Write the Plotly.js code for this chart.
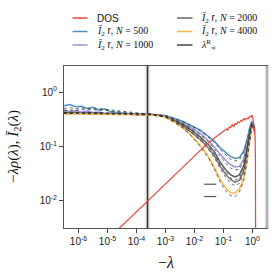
<!DOCTYPE html>
<html><head><meta charset="utf-8">
<script src="https://cdn.plot.ly/plotly-3.0.1.min.js"></script>
<style>html,body{margin:0;padding:0;background:#fff}</style>
</head><body><div id="chart" style="width:277px;height:280px"></div>
<script>
// ---- data ----
const lamDOS = [2.5e-5,1e-4,3.16e-4,1e-3,3.16e-3,0.01,0.0251,0.0501,0.0794,0.1,0.126,0.141,0.158,0.178,0.2,0.224,0.251,0.282,0.316,0.355,0.398,0.447,0.501,0.562,0.631,0.708,0.794,0.871,0.955,1.047,1.148,1.23,1.259,1.274,1.288];
const dos    = [0.00309,0.00631,0.01148,0.0209,0.0372,0.0676,0.107,0.145,0.174,0.186,0.209,0.200,0.229,0.224,0.251,0.229,0.263,0.257,0.282,0.275,0.302,0.295,0.324,0.309,0.331,0.324,0.355,0.347,0.380,0.316,0.219,0.151,0.063,0.01,0.001];

const lamI = [3.16e-7,5.0e-7,7.9e-7,1.26e-6,2.0e-6,3.16e-6,5.0e-6,7.9e-6,1.26e-5,2.5e-5,5.0e-5,1.0e-4,3.16e-4,1.0e-3,2.0e-3,4.0e-3,7.9e-3,1.58e-2,3.16e-2,5.0e-2,7.9e-2,0.126,0.178,0.251,0.355,0.501,0.631,0.794,0.933,1.07,1.2];
const i2N500  = [0.562,0.589,0.537,0.550,0.501,0.525,0.468,0.490,0.437,0.417,0.398,0.389,0.389,0.372,0.331,0.288,0.240,0.200,0.151,0.123,0.093,0.074,0.065,0.060,0.063,0.083,0.126,0.219,0.282,0.263,0.209];
const i2N1000 = [0.47,0.44,0.46,0.43,0.45,0.42,0.43,0.41,0.41,0.40,0.40,0.39,0.39,0.363,0.316,0.269,0.219,0.174,0.126,0.095,0.071,0.054,0.046,0.042,0.043,0.060,0.100,0.191,0.269,0.251,0.200];
const i2N2000 = [0.427,0.417,0.427,0.407,0.417,0.407,0.417,0.398,0.407,0.398,0.398,0.389,0.389,0.355,0.302,0.251,0.200,0.151,0.105,0.078,0.050,0.036,0.030,0.0275,0.030,0.045,0.079,0.166,0.257,0.240,0.191];
const i2N3000 = [0.41,0.40,0.41,0.40,0.40,0.41,0.40,0.40,0.40,0.39,0.39,0.39,0.39,0.355,0.288,0.234,0.182,0.135,0.091,0.066,0.042,0.0295,0.0245,0.0219,0.024,0.0355,0.066,0.148,0.245,0.229,0.182];
const i2N4000 = [0.40,0.39,0.40,0.39,0.39,0.39,0.39,0.39,0.38,0.38,0.38,0.38,0.38,0.347,0.282,0.219,0.158,0.105,0.063,0.040,0.024,0.0166,0.0141,0.0138,0.0166,0.026,0.050,0.120,0.219,0.229,0.174];

const fitN500  = [0.50,0.52,0.49,0.51,0.50,0.49,0.50,0.48,0.47,0.45,0.43,0.41,0.39,0.37,0.33,0.285,0.236,0.193,0.144,0.116,0.086,0.067,0.058,0.054,0.057,0.077,0.122,0.214,0.275,0.26,0.21];
const fitN1000 = [0.45,0.47,0.46,0.48,0.47,0.48,0.46,0.47,0.45,0.44,0.42,0.40,0.39,0.36,0.31,0.263,0.213,0.166,0.118,0.087,0.064,0.048,0.040,0.037,0.038,0.054,0.093,0.18,0.26,0.25,0.20];
const fitN2000 = [0.42,0.43,0.42,0.42,0.43,0.42,0.42,0.41,0.41,0.41,0.40,0.40,0.39,0.35,0.30,0.248,0.195,0.144,0.098,0.071,0.045,0.032,0.026,0.024,0.026,0.040,0.074,0.16,0.25,0.235,0.19];
const fitN3000 = [0.41,0.41,0.42,0.41,0.41,0.41,0.40,0.41,0.40,0.40,0.40,0.39,0.39,0.35,0.285,0.23,0.177,0.129,0.085,0.060,0.038,0.026,0.021,0.019,0.021,0.032,0.062,0.143,0.24,0.225,0.18];
const fitN4000 = [0.41,0.40,0.41,0.40,0.40,0.40,0.40,0.39,0.39,0.39,0.39,0.38,0.38,0.345,0.28,0.216,0.154,0.100,0.059,0.037,0.0215,0.0148,0.0124,0.0120,0.0146,0.024,0.047,0.115,0.215,0.225,0.17];

const lamInf = [2.4e-4];
const lamInfBand = [1.9e-4, 3.0e-4];
const dashLam = [0.0216, 0.0562];
const dashLevels = [0.0202, 0.0120];

const xTickVals = [1e-6,1e-5,1e-4,1e-3,1e-2,1e-1,1];
const xTickText = ['10<sup>-6</sup>','10<sup>-5</sup>','10<sup>-4</sup>','10<sup>-3</sup>','10<sup>-2</sup>','10<sup>-1</sup>','10<sup>0</sup>'];
const yTickVals = [0.01,0.1,1];
const yTickText = ['10<sup>-2</sup>','10<sup>-1</sup>','10<sup>0</sup>'];

// ---- styles ----
const C = {dos:'#e8473a', n500:'#4a92c6', n1000:'#9d93db', n2000:'#5a5a5a', n3000:'#7a7a7a', n4000:'#f5b94a', inf:'#333333'};
const YLO = 1e-3, YHI = 10;

const traces = [];
traces.push({x:[lamInfBand[0],lamInfBand[1],lamInfBand[1],lamInfBand[0]], y:[YLO,YLO,YHI,YHI], fill:'toself', mode:'none', fillcolor:'rgba(0,0,0,0.08)', hoverinfo:'skip', showlegend:false});
traces.push({x:[lamInf[0],lamInf[0]], y:[YLO,YHI], mode:'lines', line:{color:C.inf,width:1.6}, showlegend:false});

const solids = [[i2N500,C.n500],[i2N1000,C.n1000],[i2N2000,C.n2000],[i2N3000,C.n3000],[i2N4000,C.n4000]];
solids.forEach(s=>traces.push({x:lamI, y:s[0], mode:'lines', line:{color:s[1], width:1.5}, showlegend:false}));
[fitN500,fitN1000,fitN2000,fitN3000,fitN4000].forEach(f=>traces.push({x:lamI, y:f, mode:'lines', line:{color:'rgba(40,40,40,0.8)', width:0.9, dash:'dot'}, showlegend:false}));
dashLevels.forEach(v=>traces.push({x:dashLam, y:[v,v], mode:'lines', line:{color:'#555', width:1.2}, showlegend:false}));
traces.push({x:lamDOS, y:dos, mode:'lines', line:{color:C.dos, width:1.2}, showlegend:false});

// ---- manual legend ----
const W = 203, H = 162, L = 64, T = 66;
const px = v => (v - L)/W, py = v => (T + H - v)/H;
const serif = 'Liberation Serif';
const lab = n => '<span style="font-family:'+serif+'"><i>Ī</i><sub>2</sub></span> r, <span style="font-family:'+serif+'"><i>N</i> = '+n+'</span>';
const legItems = [
  {c:C.dos, t:'DOS', col:0, row:0},
  {c:C.n500, t:lab(500), col:0, row:1},
  {c:C.n1000, t:lab(1000), col:0, row:2},
  {c:'#666', t:lab(2000), col:1, row:0},
  {c:C.n4000, t:lab(4000), col:1, row:1},
  {c:'#444', t:'<span style="font-family:'+serif+'"><i>λ</i><sup>R</sup><sub>∞</sub></span>', col:1, row:2}
];
const rowsY = [18, 31.5, 45];
const colX = [[72.5,87.5,95],[177,192.5,199]];
const shapes = [], annotations = [];
legItems.forEach(it=>{
  const cx = colX[it.col], yy = rowsY[it.row];
  shapes.push({type:'line', xref:'paper', yref:'paper', x0:px(cx[0]), x1:px(cx[1]), y0:py(yy), y1:py(yy), line:{color:it.c, width:1.5}});
  annotations.push({xref:'paper', yref:'paper', x:px(cx[2]), y:py(yy), xanchor:'left', yanchor:'middle', text:it.t, showarrow:false, font:{family:'Liberation Sans', size:10, color:'#111'}});
});
shapes.push({type:'line', xref:'paper', yref:'paper', x0:1, x1:1, y0:0, y1:1, line:{color:'#b4b4b4', width:3}});
annotations.push({xref:'paper', yref:'paper', x:px(166), y:py(262), xanchor:'center', yanchor:'middle', showarrow:false, text:'−<i>λ</i>', font:{family:serif, size:16, color:'#111'}});
annotations.push({xref:'paper', yref:'paper', x:px(14), y:0.5, xanchor:'center', yanchor:'middle', textangle:-90, showarrow:false, text:'−<i>λρ</i>(<i>λ</i>), <i>Ī</i><sub>2</sub>(<i>λ</i>)', font:{family:serif, size:15, color:'#111'}});

const layout = {
  width:277, height:280,
  margin:{l:64, r:10, t:66, b:52, pad:0},
  paper_bgcolor:'#fff', plot_bgcolor:'#fff',
  showlegend:false,
  font:{family:'Liberation Sans', size:10, color:'#222'},
  xaxis:{type:'log', range:[-6.5,0.5], tickvals:xTickVals, ticktext:xTickText, ticks:'outside', ticklen:4, tickcolor:'#444',
         showgrid:false, zeroline:false, showline:true, linecolor:'#555', linewidth:1, mirror:true, tickfont:{size:10}},
  yaxis:{type:'log', range:[-2.5,0.48], tickvals:yTickVals, ticktext:yTickText, ticks:'outside', ticklen:4, tickcolor:'#444',
         showgrid:false, zeroline:false, showline:true, linecolor:'#555', linewidth:1, mirror:true, tickfont:{size:10}},
  shapes:shapes, annotations:annotations
};
Plotly.newPlot('chart', traces, layout, {displayModeBar:false, staticPlot:true});
</script></body></html>
